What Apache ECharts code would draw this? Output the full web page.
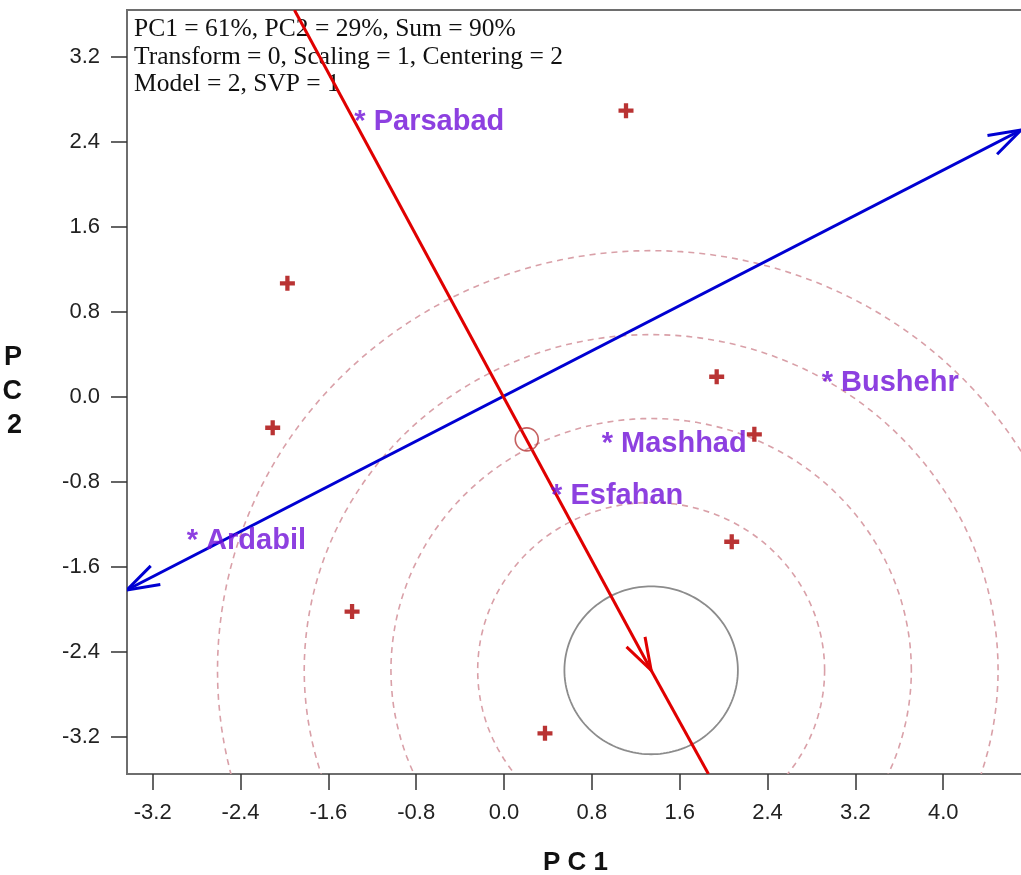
<!DOCTYPE html>
<html>
<head>
<meta charset="utf-8">
<script src="https://cdn.jsdelivr.net/npm/echarts@6/dist/echarts.min.js"></script>
<style>
  html, body { margin: 0; padding: 0; background: #fff; }
  #chart { width: 1021px; height: 875px; }
</style>
</head>
<body>
<div id="chart"></div>
<script>
// genotypes (red crosses)
var genoX = [1.111, -1.973, 1.937, -2.107, 2.280, 2.074, -1.384, 0.373];
var genoY = [2.692, 1.067, 0.188, -0.292, -0.354, -1.365, -2.022, -3.168];

// environments (purple labels)
var envNames = ['Parsabad', 'Bushehr', 'Mashhad', 'Esfahan', 'Ardabil'];
var envX = [-1.318, 2.939, 0.935, 0.474, -2.844];
var envY = [2.642, 0.188, -0.392, -0.878, -1.302];

var xTicks = [-3.2, -2.4, -1.6, -0.8, 0.0, 0.8, 1.6, 2.4, 3.2, 4.0];
var yTicks = [-3.2, -2.4, -1.6, -0.8, 0.0, 0.8, 1.6, 2.4, 3.2];

// axes of the biplot
var blueStart = [-3.436, -1.819];
var blueEnd = [4.709, 2.51];
var redStart = [-1.909, 3.64];
var redEnd = [1.862, -3.551];
var idealPoint = [1.34, -2.575];
var avgPoint = [0.207, -0.401];

var solidRadius = 0.79;
var ringRadii = [1.58, 2.37, 3.16, 3.95];

var infoLines = [
  'PC1 = 61%, PC2 = 29%, Sum = 90%',
  'Transform = 0, Scaling = 1, Centering = 2',
  'Model = 2, SVP = 1'
];

var chart = echarts.init(document.getElementById('chart'));

function arrowHead(tip, from, color) {
  var a = Math.atan2(from[1] - tip[1], from[0] - tip[0]);
  var L = 34, h = 18 * Math.PI / 180;
  return {
    type: 'polyline',
    shape: { points: [
      [tip[0] + L * Math.cos(a + h), tip[1] + L * Math.sin(a + h)],
      tip,
      [tip[0] + L * Math.cos(a - h), tip[1] + L * Math.sin(a - h)]
    ] },
    style: { stroke: color, lineWidth: 3, fill: 'none' }
  };
}

// value: x1, y1, x2, y2, arrowAtStart, arrowAtEnd
function renderArrowLine(params, api) {
  var p1 = api.coord([api.value(0), api.value(1)]);
  var p2 = api.coord([api.value(2), api.value(3)]);
  var color = api.visual('color');
  var kids = [{
    type: 'line',
    shape: { x1: p1[0], y1: p1[1], x2: p2[0], y2: p2[1] },
    style: { stroke: color, lineWidth: 3 }
  }];
  if (api.value(4)) kids.push(arrowHead(p1, p2, color));
  if (api.value(5)) kids.push(arrowHead(p2, p1, color));
  return { type: 'group', children: kids };
}

// value: cx, cy, r, dashed
function renderCircle(params, api) {
  var cx = api.value(0), cy = api.value(1), r = api.value(2);
  var pts = [];
  for (var i = 0; i < 180; i++) {
    var t = i / 180 * Math.PI * 2;
    pts.push(api.coord([cx + r * Math.cos(t), cy + r * Math.sin(t)]));
  }
  var dashed = api.value(3) === 1;
  return {
    type: 'polygon',
    shape: { points: pts },
    style: {
      fill: 'none',
      stroke: dashed ? '#d9a0a8' : '#8c8c8c',
      lineWidth: dashed ? 1.6 : 1.8,
      lineDash: dashed ? [6, 5] : null
    }
  };
}

var genoData = genoX.map(function (x, i) { return [x, genoY[i]]; });
var envData = envNames.map(function (n, i) { return { name: n, value: [envX[i], envY[i]] }; });
var circleData = [[idealPoint[0], idealPoint[1], solidRadius, 0]].concat(
  ringRadii.map(function (r) { return [idealPoint[0], idealPoint[1], r, 1]; })
);

var option = {
  animation: false,
  backgroundColor: '#fff',
  grid: {
    left: 127, right: -3, top: 10, bottom: 101,
    outerBoundsMode: 'none',
    containLabel: false,
    show: true, borderColor: '#6e6e6e', borderWidth: 2, backgroundColor: 'transparent'
  },
  xAxis: {
    type: 'value',
    min: -3.434, max: 4.736,
    name: 'P C 1',
    nameLocation: 'middle',
    nameGap: 76,
    nameTextStyle: { fontSize: 26, fontWeight: 'bold', color: '#111', fontFamily: 'Liberation Sans' },
    splitLine: { show: false },
    axisLine: { show: true, onZero: false, lineStyle: { color: '#6e6e6e', width: 2 } },
    axisTick: { show: true, length: 16, customValues: xTicks, lineStyle: { color: '#333', width: 1.5 } },
    axisLabel: {
      customValues: xTicks, margin: 28, fontSize: 22, color: '#222', fontFamily: 'Liberation Sans',
      formatter: function (v) { return v.toFixed(1); }
    }
  },
  yAxis: {
    type: 'value',
    min: -3.551, max: 3.64,
    name: 'P\nC\n2',
    nameLocation: 'middle',
    nameRotate: 0,
    nameGap: 105,
    nameTextStyle: {
      fontSize: 27, fontWeight: 'bold', color: '#111', lineHeight: 34,
      fontFamily: 'Liberation Sans', padding: [10, 0, 0, 0]
    },
    splitLine: { show: false },
    axisLine: { show: true, onZero: false, lineStyle: { color: '#6e6e6e', width: 2 } },
    axisTick: { show: true, length: 16, customValues: yTicks, lineStyle: { color: '#333', width: 1.5 } },
    axisLabel: {
      customValues: yTicks, margin: 27, fontSize: 22, color: '#222', fontFamily: 'Liberation Sans',
      formatter: function (v) { return v.toFixed(1); }
    }
  },
  graphic: [{
    type: 'text',
    left: 134, top: 16,
    style: {
      text: infoLines.join('\n'),
      font: '25.5px "Liberation Serif"',
      lineHeight: 27.5,
      fill: '#111'
    }
  }],
  series: [
    {
      type: 'custom',
      clip: true,
      renderItem: renderCircle,
      data: circleData,
      z: 1
    },
    {
      type: 'custom',
      clip: true,
      renderItem: renderArrowLine,
      data: [
        { value: [blueStart[0], blueStart[1], blueEnd[0], blueEnd[1], 1, 1], itemStyle: { color: '#0000d2' } },
        { value: [redStart[0], redStart[1], idealPoint[0], idealPoint[1], 0, 1], itemStyle: { color: '#e00000' } },
        { value: [idealPoint[0], idealPoint[1], redEnd[0], redEnd[1], 0, 0], itemStyle: { color: '#e00000' } }
      ],
      z: 3
    },
    {
      type: 'scatter',
      data: [avgPoint],
      symbol: 'circle',
      symbolSize: 23,
      itemStyle: { color: 'transparent', borderColor: '#b83a3a', borderWidth: 1.6 },
      z: 4
    },
    {
      type: 'scatter',
      data: genoData,
      symbol: 'path://M5,0H9V5H14V9H9V14H5V9H0V5H5Z',
      symbolSize: 15,
      itemStyle: { color: '#a80000' },
      z: 5
    },
    {
      type: 'scatter',
      data: envData,
      symbolSize: 0,
      label: {
        show: true,
        position: 'inside',
        align: 'left',
        verticalAlign: 'middle',
        offset: [-5, 6],
        formatter: '* {b}',
        fontSize: 29,
        fontWeight: 'bold',
        fontFamily: 'Liberation Sans',
        color: '#7010d8'
      },
      z: 6
    }
  ]
};

chart.setOption(option);
</script>
</body>
</html>
